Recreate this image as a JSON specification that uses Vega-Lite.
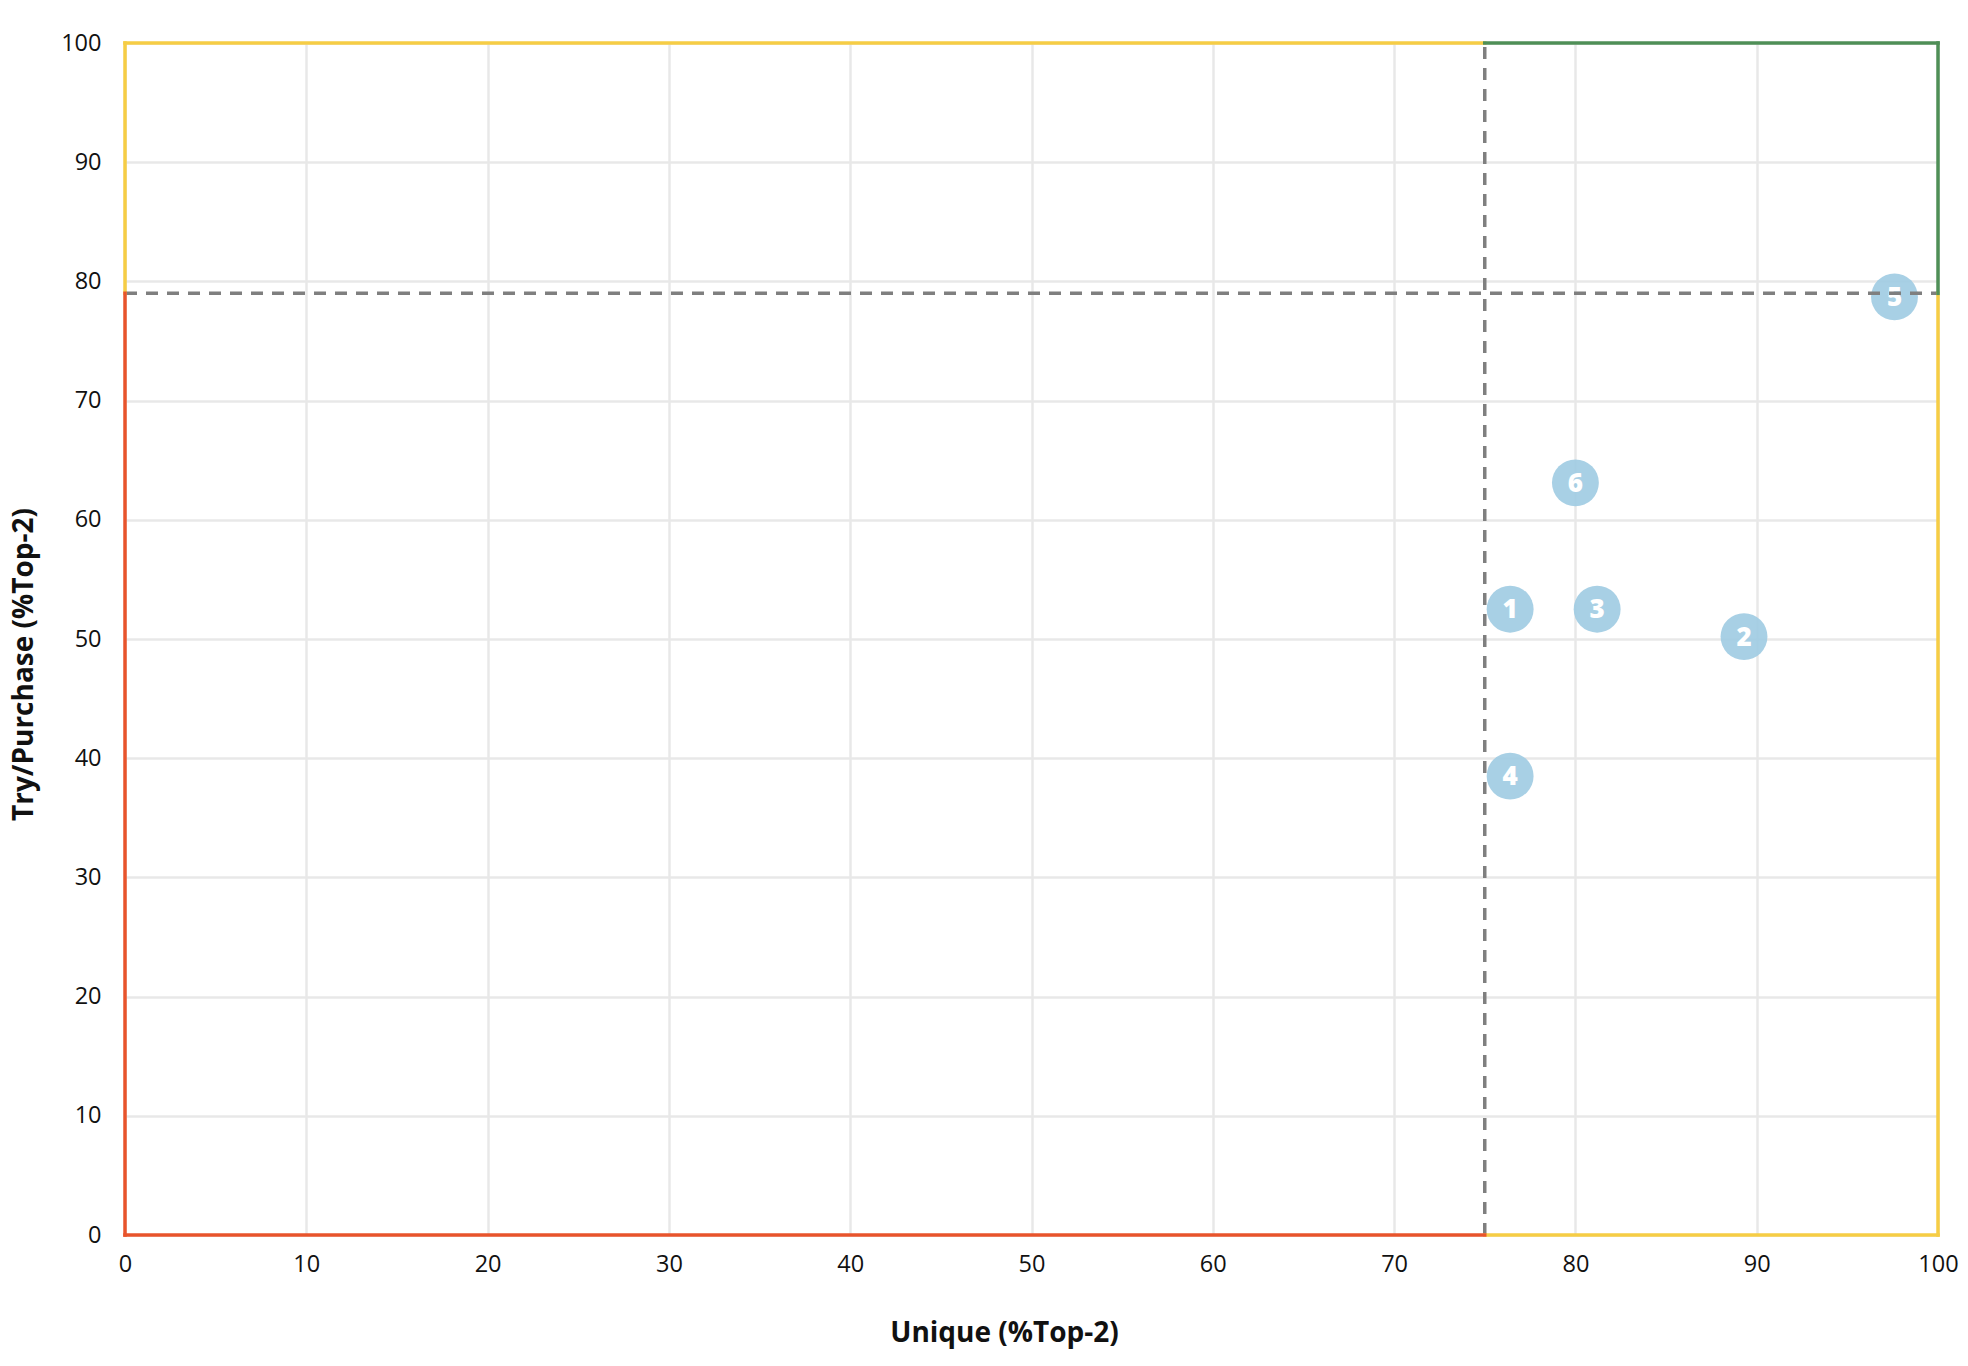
{
  "$schema": "https://vega.github.io/schema/vega-lite/v6.json",
  "autosize": {"type": "none"},
  "padding": {"left": 125, "top": 43, "right": 30, "bottom": 131},
  "width": 1813,
  "height": 1192,
  "background": "white",
  "config": {
    "view": {"stroke": null},
    "font": "Open Sans",
    "axis": {
      "grid": true,
      "gridColor": "#e8e8e8",
      "gridWidth": 2.5,
      "domain": false,
      "ticks": false,
      "labelFlush": false,
      "labelFont": "Open Sans",
      "labelFontSize": 23.5,
      "labelColor": "#111111",
      "titleFont": "Open Sans",
      "titleFontSize": 28,
      "titleFontWeight": "bold",
      "titleColor": "#111111"
    }
  },
  "datasets": {
    "points": [
      {"id": "1", "unique": 76.4, "try": 52.5},
      {"id": "2", "unique": 89.3, "try": 50.2},
      {"id": "3", "unique": 81.2, "try": 52.5},
      {"id": "4", "unique": 76.4, "try": 38.5},
      {"id": "5", "unique": 97.6, "try": 78.7},
      {"id": "6", "unique": 80.0, "try": 63.1}
    ],
    "dividers": [
      {"x1": 75, "y1": 0, "x2": 75, "y2": 100},
      {"x1": 0, "y1": 79, "x2": 100, "y2": 79}
    ],
    "borders": [
      {"zone": "mid", "x1": 0, "y1": 79, "x2": 0, "y2": 100},
      {"zone": "mid", "x1": 0, "y1": 100, "x2": 75, "y2": 100},
      {"zone": "mid", "x1": 75, "y1": 0, "x2": 100, "y2": 0},
      {"zone": "mid", "x1": 100, "y1": 0, "x2": 100, "y2": 79},
      {"zone": "high", "x1": 75, "y1": 100, "x2": 100, "y2": 100},
      {"zone": "high", "x1": 100, "y1": 79, "x2": 100, "y2": 100},
      {"zone": "low", "x1": 0, "y1": 0, "x2": 0, "y2": 79},
      {"zone": "low", "x1": 0, "y1": 0, "x2": 75, "y2": 0}
    ]
  },
  "layer": [
    {
      "data": {"name": "points"},
      "mark": {"type": "circle", "size": 2200, "color": "#9ecbe2", "opacity": 0.9},
      "encoding": {
        "x": {
          "field": "unique",
          "type": "quantitative",
          "scale": {"domain": [0, 100], "nice": false},
          "axis": {
            "values": [0, 10, 20, 30, 40, 50, 60, 70, 80, 90, 100],
            "labelPadding": 17,
            "title": "Unique (%Top-2)",
            "titleX": 879,
            "titleY": 106,
            "titleBaseline": "alphabetic"
          }
        },
        "y": {
          "field": "try",
          "type": "quantitative",
          "scale": {"domain": [0, 100], "nice": false},
          "axis": {
            "values": [0, 10, 20, 30, 40, 50, 60, 70, 80, 90, 100],
            "labelPadding": 24,
            "title": "Try/Purchase (%Top-2)",
            "titleX": -101,
            "titleY": 621,
            "titleBaseline": "middle"
          }
        }
      }
    },
    {
      "data": {"name": "points"},
      "mark": {"type": "text", "color": "white", "font": "Open Sans", "fontSize": 26, "fontWeight": 800, "baseline": "middle", "dy": 1},
      "encoding": {
        "x": {"field": "unique", "type": "quantitative"},
        "y": {"field": "try", "type": "quantitative"},
        "text": {"field": "id"}
      }
    },
    {
      "data": {"name": "dividers"},
      "mark": {"type": "rule", "color": "#7f7f7f", "strokeWidth": 3.5, "strokeDash": [12, 9]},
      "encoding": {
        "x": {"field": "x1", "type": "quantitative"},
        "x2": {"field": "x2"},
        "y": {"field": "y1", "type": "quantitative"},
        "y2": {"field": "y2"}
      }
    },
    {
      "data": {"name": "borders"},
      "mark": {"type": "rule", "strokeWidth": 3.5, "strokeCap": "square"},
      "encoding": {
        "x": {"field": "x1", "type": "quantitative"},
        "x2": {"field": "x2"},
        "y": {"field": "y1", "type": "quantitative"},
        "y2": {"field": "y2"},
        "color": {
          "field": "zone",
          "type": "nominal",
          "scale": {"domain": ["low", "mid", "high"], "range": ["#e8542c", "#f6cd45", "#4f8f57"]},
          "legend": null
        }
      }
    }
  ]
}
